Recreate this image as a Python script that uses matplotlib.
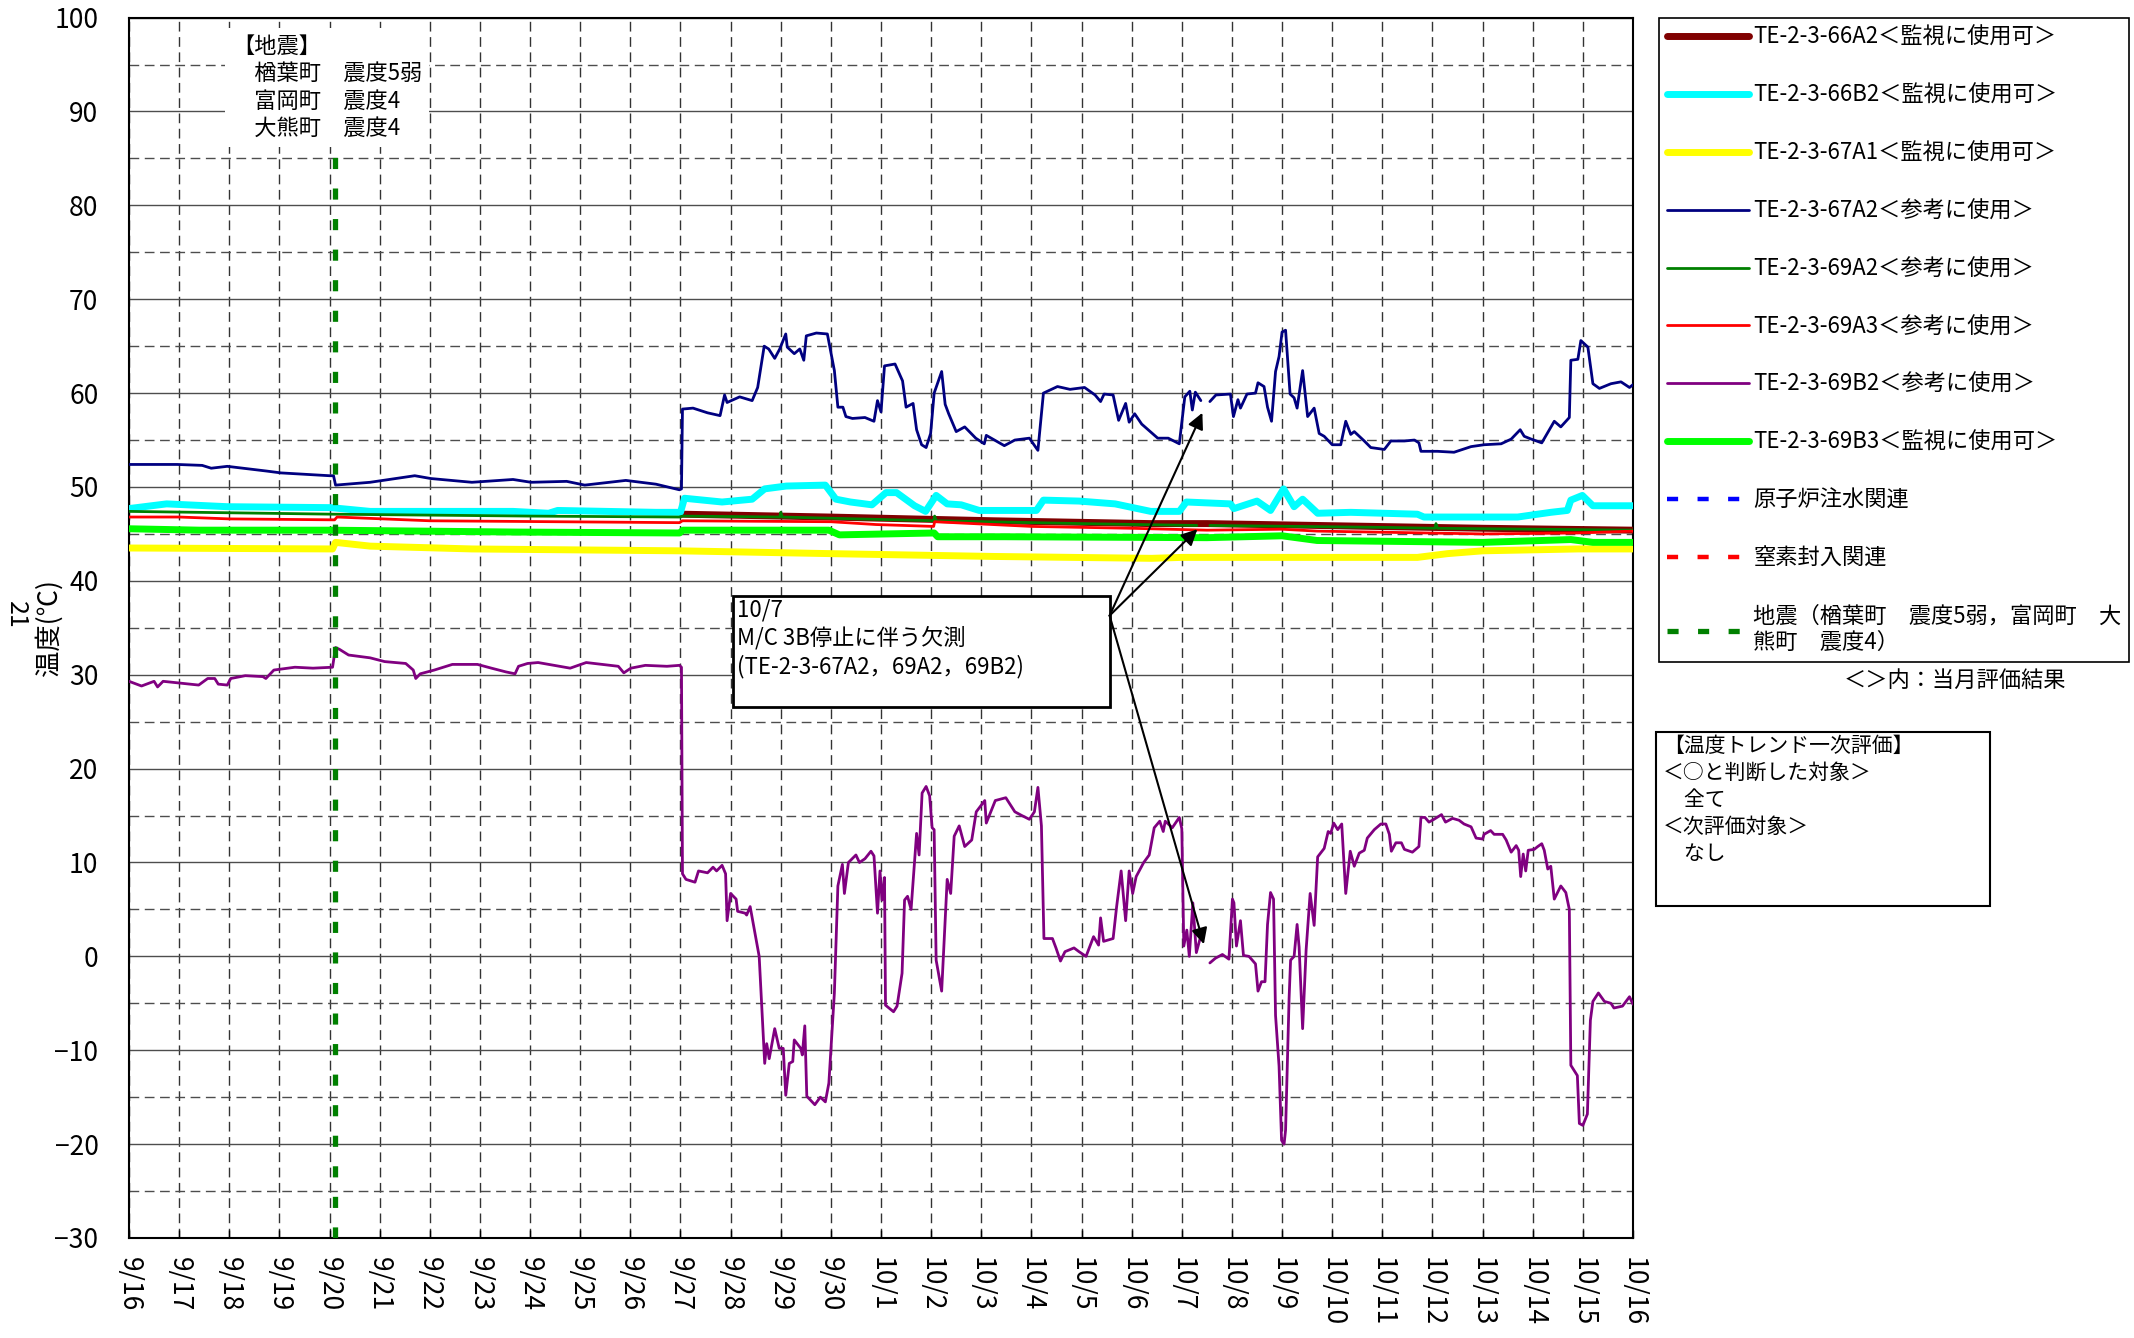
#!/usr/bin/env python3
"""Temperature trend chart TE-2-3 (9/16 - 10/16)."""

import matplotlib

matplotlib.use("Agg")
import matplotlib.pyplot as plt
import numpy as np
from matplotlib.patches import Rectangle
from matplotlib.ticker import MultipleLocator

plt.rcParams["font.family"] = ["Noto Sans CJK JP", "DejaVu Sans"]
plt.rcParams["lines.scale_dashes"] = False

W, H = 2134, 1338
NAN = float("nan")

# x = days since 9/16 00:00, y = temperature (deg C)
DAY_LABELS = [
    "9/16", "9/17", "9/18", "9/19", "9/20", "9/21", "9/22", "9/23", "9/24",
    "9/25", "9/26", "9/27", "9/28", "9/29", "9/30", "10/1", "10/2", "10/3",
    "10/4", "10/5", "10/6", "10/7", "10/8", "10/9", "10/10", "10/11",
    "10/12", "10/13", "10/14", "10/15", "10/16",
]

TE_66A2 = [
    (11.04, 47.1), (13.96, 46.8), (17.25, 46.4), (20.38, 46.1), (21.51, 46.1),
    (23.71, 45.9), (27.03, 45.6), (30.0, 45.4),
]

TE_66B2 = [
    (0.0, 47.7), (0.75, 48.2), (1.96, 47.9), (4.03, 47.8), (4.81, 47.4),
    (7.66, 47.4), (8.37, 47.2), (8.55, 47.5), (10.51, 47.3), (11.0, 47.3),
    (11.08, 48.8), (11.83, 48.4), (12.43, 48.7), (12.68, 49.8), (13.11, 50.1),
    (13.89, 50.2), (14.1, 48.7), (14.39, 48.4), (14.82, 48.1), (15.1, 49.4),
    (15.31, 49.4), (15.67, 48.0), (15.89, 47.4), (16.1, 49.1), (16.32, 48.2),
    (16.6, 48.1), (16.96, 47.5), (18.1, 47.5), (18.24, 48.6), (18.95, 48.5),
    (19.67, 48.2), (20.38, 47.4), (20.95, 47.4), (21.09, 48.4), (21.97, 48.2),
    (22.04, 47.7), (22.5, 48.5), (22.77, 47.5), (23.03, 49.8), (23.24, 47.9),
    (23.41, 48.7), (23.71, 47.2), (24.37, 47.3), (25.7, 47.1), (25.83, 46.8),
    (27.7, 46.8), (28.36, 47.3), (28.69, 47.5), (28.76, 48.6), (28.99, 49.1),
    (29.2, 48.0), (30.0, 48.0),
]

TE_67A1 = [
    (0.0, 43.5), (4.06, 43.4), (4.12, 44.1), (4.81, 43.7), (6.84, 43.4),
    (10.98, 43.2), (14.0, 42.9), (17.25, 42.6), (20.4, 42.4), (21.0, 42.5),
    (25.7, 42.5), (26.3, 42.9), (27.0, 43.2), (28.9, 43.4), (30.0, 43.4),
]

TE_67A2 = [
    (0.0, 52.4), (0.96, 52.4), (1.46, 52.3), (1.64, 52.0), (1.96, 52.2),
    (2.74, 51.7), (3.03, 51.5), (4.0, 51.2), (4.08, 51.2), (4.12, 50.2),
    (4.81, 50.5), (5.70, 51.2), (6.02, 50.9), (6.84, 50.5), (7.66, 50.8),
    (8.02, 50.5), (8.73, 50.6), (9.09, 50.2), (9.91, 50.7), (10.51, 50.3),
    (10.98, 49.7), (11.02, 49.8), (11.04, 58.3), (11.25, 58.4), (11.54, 57.9),
    (11.79, 57.6), (11.88, 59.8), (11.93, 59.0), (12.18, 59.6), (12.43, 59.2),
    (12.54, 60.6), (12.67, 65.0), (12.76, 64.7), (12.88, 63.7), (12.98, 64.7),
    (13.10, 66.3), (13.13, 64.9), (13.27, 64.2), (13.38, 64.7), (13.46, 63.5),
    (13.51, 66.1), (13.71, 66.4), (13.93, 66.3), (14.07, 62.4), (14.14, 58.5),
    (14.24, 58.5), (14.30, 57.5), (14.43, 57.3), (14.68, 57.4), (14.86, 57.0),
    (14.93, 59.2), (15.0, 58.0), (15.07, 62.9), (15.28, 63.1), (15.43, 61.3),
    (15.50, 58.5), (15.64, 58.9), (15.71, 56.1), (15.81, 54.5), (15.90, 54.2),
    (15.99, 55.7), (16.06, 60.0), (16.21, 62.3), (16.28, 58.8), (16.35, 57.8),
    (16.50, 55.9), (16.67, 56.4), (16.89, 55.2), (17.06, 54.6), (17.10, 55.5),
    (17.46, 54.4), (17.67, 55.0), (17.96, 55.2), (18.13, 53.9), (18.24, 60.0),
    (18.52, 60.7), (18.77, 60.4), (19.06, 60.6), (19.27, 59.8), (19.38, 59.1),
    (19.45, 59.9), (19.63, 59.8), (19.74, 57.1), (19.88, 58.9), (19.95, 56.9),
    (20.06, 57.8), (20.20, 56.7), (20.52, 55.2), (20.73, 55.2), (20.95, 54.6),
    (21.06, 59.6), (21.16, 60.2), (21.21, 58.2), (21.27, 60.1), (21.38, 59.2),
    (21.47, NAN),
    (21.56, 59.1), (21.68, 59.8), (21.97, 59.9), (22.03, 57.5), (22.12, 59.3),
    (22.17, 58.4), (22.30, 59.9), (22.47, 60.0), (22.52, 61.1), (22.64, 60.7),
    (22.71, 58.5), (22.79, 57.0), (22.87, 62.3), (22.94, 63.9), (23.0, 66.5),
    (23.07, 66.7), (23.16, 59.9), (23.24, 59.5), (23.30, 58.4), (23.41, 62.4),
    (23.51, 57.5), (23.64, 58.4), (23.74, 55.7), (23.84, 55.4), (24.0, 54.5),
    (24.17, 54.5), (24.27, 57.0), (24.37, 55.6), (24.44, 55.9), (24.64, 54.9),
    (24.77, 54.2), (25.04, 54.0), (25.17, 54.9), (25.44, 54.9), (25.64, 55.0),
    (25.73, 54.7), (25.77, 53.8), (26.10, 53.8), (26.43, 53.7), (26.77, 54.3),
    (27.03, 54.5), (27.37, 54.6), (27.57, 55.1), (27.75, 56.1), (27.83, 55.4),
    (27.97, 55.1), (28.18, 54.7), (28.30, 55.8), (28.43, 57.0), (28.56, 56.4),
    (28.73, 57.4), (28.76, 63.5), (28.90, 63.6), (28.96, 65.6), (29.10, 64.9),
    (29.20, 61.0), (29.33, 60.5), (29.56, 61.0), (29.76, 61.2), (29.93, 60.6),
    (30.0, 60.9),
]

TE_69A2 = [
    (0.0, 47.4), (4.1, 47.1), (8.0, 46.9), (10.98, 46.8), (11.05, 46.9),
    (12.98, 46.8), (13.0, 47.3), (13.03, 46.8), (16.05, 46.4), (16.07, 46.9),
    (16.1, 46.4), (19.0, 46.1), (21.3, 45.9), (21.45, NAN), (21.56, 45.9),
    (25.0, 45.7), (26.05, 45.6), (26.07, 46.1), (26.1, 45.6), (30.0, 45.4),
]

TE_69A3 = [
    (0.0, 46.8), (1.0, 46.8), (2.0, 46.6), (4.1, 46.5), (4.15, 46.8),
    (6.0, 46.4), (8.5, 46.3), (10.98, 46.2), (11.04, 46.4), (14.0, 46.3),
    (14.9, 46.0), (16.05, 45.8), (16.07, 46.3), (18.0, 45.8), (20.0, 45.6),
    (21.5, 45.4), (23.0, 45.5), (23.7, 45.3), (27.0, 45.0), (28.9, 45.1),
    (30.0, 45.3),
]

TE_69B2 = [
    (0.0, 29.3), (0.25, 28.8), (0.50, 29.3), (0.57, 28.7), (0.68, 29.3),
    (1.03, 29.1), (1.39, 28.9), (1.57, 29.6), (1.71, 29.6), (1.78, 29.0),
    (1.96, 28.9), (2.03, 29.6), (2.32, 29.9), (2.67, 29.8), (2.73, 29.6),
    (2.89, 30.5), (3.31, 30.8), (3.67, 30.7), (4.06, 30.8), (4.12, 32.9),
    (4.2, 32.7), (4.38, 32.1), (4.81, 31.8), (5.1, 31.4), (5.52, 31.2),
    (5.67, 30.5), (5.72, 29.6), (5.81, 30.1), (6.09, 30.5), (6.45, 31.1),
    (6.95, 31.1), (7.23, 30.7), (7.52, 30.3), (7.70, 30.1), (7.77, 30.9),
    (7.95, 31.2), (8.16, 31.3), (8.37, 31.1), (8.8, 30.7), (9.12, 31.3),
    (9.44, 31.1), (9.76, 30.9), (9.87, 30.2), (10.01, 30.7), (10.3, 31.0),
    (10.73, 30.9), (10.98, 31.0), (11.02, 30.8),
    (11.04, 8.8), (11.11, 8.2), (11.29, 7.9), (11.36, 9.1), (11.54, 8.9),
    (11.65, 9.5), (11.72, 9.1), (11.83, 9.7), (11.90, 8.8), (11.93, 3.8),
    (12.0, 6.7), (12.11, 6.1), (12.14, 4.8), (12.29, 4.6), (12.32, 4.4),
    (12.39, 5.3), (12.50, 2.1), (12.57, 0.0), (12.68, -11.4), (12.72, -9.3),
    (12.77, -10.9), (12.88, -7.7), (12.97, -9.8), (13.05, -9.8), (13.10, -14.8),
    (13.17, -11.4), (13.24, -11.2), (13.27, -8.9), (13.40, -9.8), (13.43, -10.5),
    (13.48, -7.4), (13.52, -14.9), (13.68, -15.8), (13.79, -15.0), (13.89, -15.5),
    (13.96, -13.5), (14.07, -3.9), (14.14, 7.5), (14.23, 9.8), (14.27, 6.7),
    (14.35, 10.0), (14.50, 10.8), (14.57, 10.0), (14.68, 10.4), (14.80, 11.2),
    (14.86, 10.7), (14.93, 4.6), (14.98, 9.1), (15.02, 6.0), (15.07, 8.4),
    (15.09, -5.2), (15.25, -5.9), (15.32, -5.3), (15.42, -1.8), (15.47, 6.0),
    (15.53, 6.4), (15.60, 5.0), (15.71, 13.1), (15.76, 10.8), (15.82, 17.4),
    (15.90, 18.1), (15.97, 17.1), (16.02, 13.7), (16.06, 13.5), (16.10, -0.4),
    (16.21, -3.7), (16.32, 8.2), (16.39, 6.7), (16.46, 12.8), (16.56, 13.9),
    (16.67, 11.7), (16.81, 12.4), (16.90, 15.4), (17.07, 16.6), (17.10, 14.2),
    (17.28, 16.6), (17.49, 16.9), (17.67, 15.4), (17.81, 15.0), (17.96, 14.6),
    (18.06, 15.4), (18.13, 18.0), (18.20, 13.9), (18.25, 1.9), (18.42, 1.9),
    (18.49, 0.9), (18.58, -0.5), (18.67, 0.5), (18.85, 0.9), (18.95, 0.5),
    (19.09, 0.0), (19.24, 2.1), (19.34, 1.2), (19.38, 4.1), (19.44, 1.6),
    (19.63, 1.9), (19.70, 5.3), (19.79, 9.1), (19.88, 3.8), (19.95, 9.1),
    (20.02, 6.7), (20.09, 8.5), (20.24, 10.0), (20.35, 10.8), (20.45, 13.7),
    (20.56, 14.4), (20.63, 13.3), (20.67, 14.4), (20.81, 13.7), (20.95, 14.8),
    (21.0, 13.6), (21.04, 1.1), (21.10, 2.8), (21.15, 0.0), (21.22, 5.7),
    (21.29, 0.4), (21.41, 2.8),
    (21.48, NAN),
    (21.56, -0.7), (21.67, -0.2), (21.81, 0.2), (21.94, -0.3), (22.01, 6.1),
    (22.04, 5.7), (22.09, 1.1), (22.17, 3.8), (22.23, 0.1), (22.34, 0.0),
    (22.47, -0.8), (22.52, -3.7), (22.59, -2.7), (22.66, -2.7), (22.71, 3.4),
    (22.77, 6.8), (22.83, 6.1), (22.87, -6.3), (22.94, -11.7), (22.99, -19.6),
    (23.04, -20.0), (23.07, -18.5), (23.14, -4.5), (23.17, -0.4), (23.24, 0.0),
    (23.30, 3.4), (23.34, 1.0), (23.41, -7.7), (23.48, 0.7), (23.56, 6.7),
    (23.64, 3.3), (23.71, 10.6), (23.84, 11.5), (23.92, 13.3), (23.97, 13.1),
    (24.03, 14.2), (24.11, 13.5), (24.19, 14.1), (24.27, 6.7), (24.36, 11.2),
    (24.44, 9.6), (24.54, 11.0), (24.64, 11.3), (24.70, 12.6), (24.84, 13.5),
    (24.97, 14.1), (25.07, 14.1), (25.14, 13.0), (25.18, 11.2), (25.27, 12.1),
    (25.38, 12.1), (25.44, 11.4), (25.60, 11.1), (25.73, 11.7), (25.77, 14.8),
    (25.85, 14.8), (25.93, 14.3), (26.03, 14.6), (26.18, 15.1), (26.26, 14.3),
    (26.40, 14.7), (26.53, 14.5), (26.63, 14.1), (26.77, 13.8), (26.87, 12.6),
    (27.00, 12.5), (27.03, 13.0), (27.16, 13.4), (27.23, 13.0), (27.40, 13.0),
    (27.47, 12.4), (27.57, 11.1), (27.67, 11.8), (27.72, 11.3), (27.76, 8.5),
    (27.81, 10.9), (27.86, 9.1), (27.91, 11.3), (28.03, 11.4), (28.10, 11.7),
    (28.18, 12.0), (28.23, 11.3), (28.30, 9.3), (28.36, 9.6), (28.43, 6.1),
    (28.56, 7.5), (28.66, 6.8), (28.73, 5.0), (28.76, -11.6), (28.89, -12.7),
    (28.93, -17.8), (29.0, -18.0), (29.09, -16.8), (29.15, -6.8), (29.20, -4.8),
    (29.31, -3.9), (29.43, -4.8), (29.56, -5.0), (29.62, -5.5), (29.79, -5.3),
    (29.93, -4.3), (30.0, -5.1),
]

TE_69B3 = [
    (0.0, 45.55), (1.4, 45.4), (4.0, 45.4), (7.7, 45.2), (10.98, 45.1),
    (11.05, 45.4), (13.96, 45.4), (14.17, 44.9), (16.06, 45.1), (16.13, 44.7),
    (17.46, 44.7), (21.5, 44.6), (23.0, 44.8), (23.7, 44.3), (27.0, 44.1),
    (28.76, 44.4), (29.2, 44.1), (30.0, 44.1),
]

SERIES = [
    ("TE-2-3-66A2＜監視に使用可＞", TE_66A2, "#800000", 5.0),
    ("TE-2-3-66B2＜監視に使用可＞", TE_66B2, "#00FFFF", 5.0),
    ("TE-2-3-67A1＜監視に使用可＞", TE_67A1, "#FFFF00", 5.0),
    ("TE-2-3-67A2＜参考に使用＞", TE_67A2, "#000080", 2.0),
    ("TE-2-3-69A2＜参考に使用＞", TE_69A2, "#008000", 2.0),
    ("TE-2-3-69A3＜参考に使用＞", TE_69A3, "#FF0000", 2.0),
    ("TE-2-3-69B2＜参考に使用＞", TE_69B2, "#800080", 2.0),
    ("TE-2-3-69B3＜監視に使用可＞", TE_69B3, "#00FF00", 5.0),
]

EVENT_LABELS = ["原子炉注水関連", "窒素封入関連", "地震（楢葉町　震度5弱，富岡町　大\n熊町　震度4）"]
EVENT_COLORS = ["#0000FF", "#FF0000", "#008000"]
EQ_DAY = 4.1  # earthquake, 9/20 early morning

EQ_TEXT = "【地震】\n　楢葉町　震度5弱\n　富岡町　震度4\n　大熊町　震度4"
NOTE_TEXT = "10/7\nM/C 3B停止に伴う欠測\n(TE-2-3-67A2，69A2，69B2)"
EVAL_TEXT = "【温度トレンド一次評価】\n＜○と判断した対象＞\n　全て\n＜次評価対象＞\n　なし"
LEGEND_NOTE = "＜＞内：当月評価結果"

DASH_GRID = (0, (7, 4))
DASH_EVENT = (0, (8, 14))


def fx(px):
    return px / W


def fy(py):
    return 1 - py / H


def main():
    fig = plt.figure(figsize=(W / 100, H / 100), dpi=100)
    ax = fig.add_axes([fx(129), fy(1238), fx(1633) - fx(129), fy(17.6) - fy(1238)])

    handles = []
    for i, (label, pts, color, lw) in enumerate(SERIES):
        arr = np.array(pts, dtype=float)
        (ln,) = ax.plot(arr[:, 0], arr[:, 1], color=color, lw=lw, label=label,
                        solid_capstyle="round", solid_joinstyle="round", zorder=3 + i * 0.1)
        handles.append(ln)

    for label, color in zip(EVENT_LABELS[:2], EVENT_COLORS[:2]):
        (ln,) = ax.plot([], [], color=color, lw=3.2, ls=DASH_EVENT, label=label)
        handles.append(ln)
    eq = ax.axvline(EQ_DAY, color=EVENT_COLORS[2], lw=3.8, ls=DASH_EVENT,
                    label=EVENT_LABELS[2], zorder=6)
    handles.append(eq)

    ax.set_xlim(0, len(DAY_LABELS) - 1)
    ax.set_ylim(-30, 100)
    ax.set_xticks(range(len(DAY_LABELS)))
    ax.set_xticklabels(DAY_LABELS, rotation=-90, fontsize=19)
    ax.yaxis.set_major_locator(MultipleLocator(10))
    ax.yaxis.set_minor_locator(MultipleLocator(5))
    ax.tick_params(axis="y", which="both", length=0, pad=22, labelsize=19)
    ax.tick_params(axis="x", direction="in", length=6, width=1, pad=14)

    ax.set_axisbelow(True)
    ax.grid(axis="y", which="major", color="#4d4d4d", lw=1.0, ls="-")
    ax.grid(axis="y", which="minor", color="#4d4d4d", lw=1.0, ls=DASH_GRID)
    ax.grid(axis="x", which="major", color="#333333", lw=1.0, ls=DASH_GRID)
    for sp in ax.spines.values():
        sp.set_linewidth(1.5)
        sp.set_color("black")

    ax.set_ylabel("温度(℃)", fontsize=19)
    ax.yaxis.set_label_coords(-0.044, 0.5)
    fig.text(fx(16), fy(615), "21", rotation=-90, fontsize=18, ha="center", va="center")

    # earthquake intensities
    ax.text(2.05, 98.2, EQ_TEXT, ha="left", va="top", fontsize=16, linespacing=1.25,
            bbox=dict(boxstyle="square,pad=0.3", fc="white", ec="none"), zorder=8)

    # missing-data note and arrows
    ax.add_patch(Rectangle((12.04, 26.6), 7.52, 11.8, fc="white", ec="black",
                           lw=2.0, zorder=7))
    ax.text(12.12, 38.1, NOTE_TEXT, ha="left", va="top", fontsize=16,
            linespacing=1.25, zorder=8)
    for tip in [(21.41, 57.9), (21.31, 45.5), (21.44, 1.3)]:
        ax.annotate("", xy=tip, xytext=(19.56, 36.3),
                    arrowprops=dict(arrowstyle="-|>", color="black", lw=1.5,
                                    mutation_scale=24, shrinkA=0, shrinkB=0),
                    zorder=9)

    leg = fig.legend(handles=handles, loc="upper left",
                     bbox_to_anchor=(fx(1659), fy(18)), bbox_transform=fig.transFigure,
                     fontsize=16, frameon=True, fancybox=False, edgecolor="black",
                     framealpha=1, borderpad=0.35, borderaxespad=0, handlelength=3.7,
                     handletextpad=0.2, labelspacing=1.57)
    leg.get_frame().set_linewidth(1.2)

    fig.text(fx(1955), fy(680), LEGEND_NOTE, ha="center", va="center", fontsize=16)

    fig.patches.append(Rectangle((fx(1656), fy(906)), fx(1990) - fx(1656), fy(732) - fy(906),
                                 transform=fig.transFigure, fill=False, ec="black", lw=1.5))
    fig.text(fx(1663), fy(735), EVAL_TEXT, ha="left", va="top", fontsize=15, linespacing=1.3)

    fig.savefig("out.png", dpi=100)
    plt.close(fig)


if __name__ == "__main__":
    main()
